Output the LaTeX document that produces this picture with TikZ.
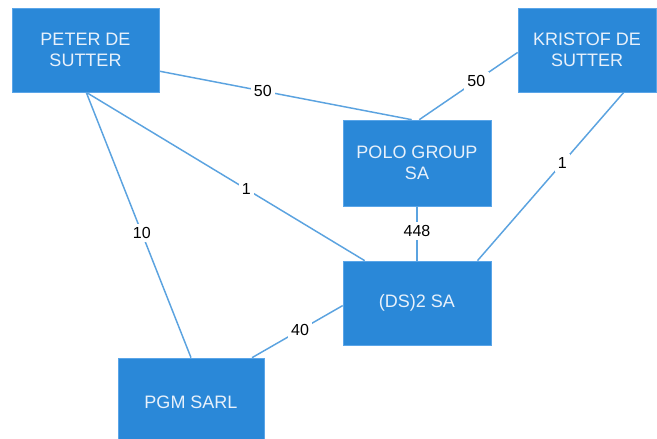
\documentclass[tikz,border=0pt]{standalone}
\usepackage{fontspec}
\setmainfont{Liberation Sans}
\usepackage{tikz}
\definecolor{boxblue}{HTML}{2A88D8}
\definecolor{boxedge}{HTML}{5AA5E8}
\definecolor{boxtext}{HTML}{E8F1FB}
\definecolor{linkblue}{HTML}{5BA3E0}
\begin{document}
\begin{tikzpicture}[x=0.75pt,y=-0.75pt]
\tikzstyle{box} = [rectangle,fill=boxblue,draw=boxedge,line width=0.5pt,text=boxtext,align=center,font=\fontsize{13.5}{15.5}\selectfont,inner sep=0pt]
\tikzstyle{link} = [draw=linkblue,line width=1.1pt]
\tikzstyle{share} = [fill=white,text=black,inner sep=2.5pt,font=\fontsize{12}{14}\selectfont]
\clip (0,0) rectangle (657,439);
\fill[white] (0,0) rectangle (657,439);
\node[box,minimum width=110.25pt,minimum height=63pt] (peter) at (85.5,50) {PETER DE\\SUTTER};
\node[box,minimum width=103.5pt,minimum height=63pt] (kristof) at (587,50) {KRISTOF DE\\SUTTER};
\node[box,minimum width=111pt,minimum height=64.5pt] (polo) at (417,163) {POLO GROUP\\SA};
\node[box,minimum width=111pt,minimum height=63pt] (ds2) at (417,303) {(DS)2 SA};
\node[box,minimum width=109.5pt,minimum height=66pt] (pgm) at (191,402) {PGM SARL};
\draw[link] (peter.-16) -- node[share,pos=0.41] {50} (polo.97);
\draw[link] (kristof.182) -- node[share,pos=0.42] {50} (polo.87);
\draw[link] (peter.-89) -- node[share,pos=0.575] {1} (ds2.141);
\draw[link] (peter.-89) -- node[share,pos=0.53] {10} (pgm.north);
\draw[link] (polo.south) -- node[share,pos=0.45] {448} (ds2.north);
\draw[link] (kristof.-49) -- node[share,pos=0.42] {1} (ds2.35);
\draw[link] (ds2.182) -- node[share,pos=0.47] {40} (pgm.36);
\end{tikzpicture}
\end{document}
